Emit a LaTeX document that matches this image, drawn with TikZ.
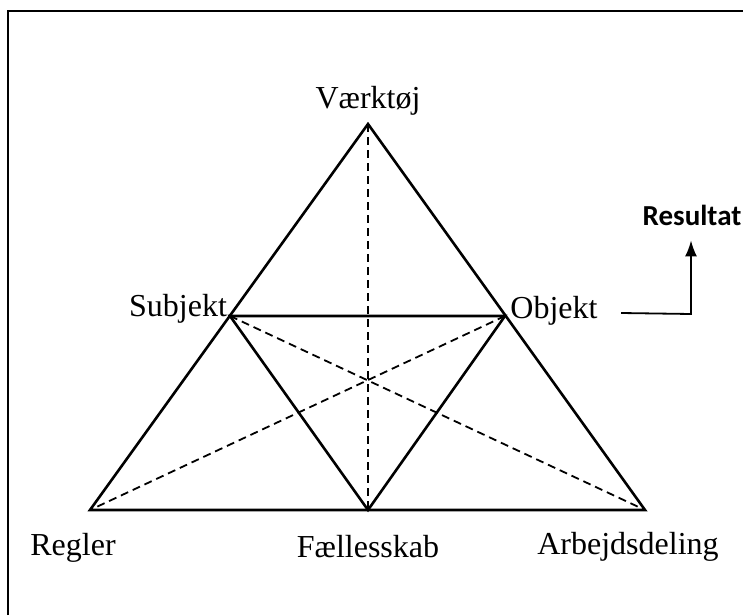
\documentclass[tikz,border=0pt]{standalone}
\usepackage{fontspec}
\setmainfont{Liberation Serif}
\newfontfamily\resultfont{Carlito}
\usetikzlibrary{arrows.meta}
\begin{document}
\begin{tikzpicture}[x=1pt,y=-1pt]
\tikzstyle{cornertext}=[anchor=base, inner sep=0pt, font=\fontsize{32}{36}\selectfont]
\tikzstyle{resulttext}=[anchor=base, inner sep=0pt, font=\resultfont\bfseries\fontsize{29}{32}\selectfont]
\tikzstyle{side}=[draw, line width=2.6pt, line join=miter]
\tikzstyle{median}=[draw, line width=1.8pt, dash pattern=on 8pt off 5pt]
\tikzstyle{outcome}=[draw, line width=1.8pt, -{Latex[length=16pt,width=12pt]}]

\useasboundingbox (0,0) rectangle (743,615);
\draw[line width=2.6pt] (8,615) -- (8,11) -- (743,11);

% Define corners
\coordinate (vaerktoej) at (368,124);
\coordinate (subjekt) at (230,316);
\coordinate (objekt) at (505,316);
\coordinate (regler) at (90,510);
\coordinate (faelles) at (368,510);
\coordinate (arbejde) at (645,510);

% Corner texts
\node[cornertext] (vaerktoejtext) at (368,108) {Værktøj};
\node[cornertext] (subjekttext) at (178,316) {Subjekt};
\node[cornertext] (objekttext) at (554,318) {Objekt};
\node[cornertext] (reglertext) at (73,555) {Regler};
\node[cornertext] (faellestext) at (368,557) {Fællesskab};
\node[cornertext] (arbejdetext) at (628,554) {Arbejdsdeling};
\node[resulttext] (resultat) at (692,225) {Resultat};

% Outer and inner triangle
\draw[side] (vaerktoej) -- (arbejde) -- (regler) -- cycle;
\draw[side] (subjekt) -- (objekt) -- (faelles) -- cycle;

% Dashed medians
\draw[median] (vaerktoej) -- (faelles);
\draw[median] (subjekt) -- (arbejde);
\draw[median] (objekt) -- (regler);

% Result arrow
\coordinate (arrowstart) at (621,313);
\coordinate (bend) at (691,314);
\draw[outcome, shorten >=15pt] (arrowstart) -- (bend) -- (bend |- resultat.south);
\end{tikzpicture}
\end{document}
